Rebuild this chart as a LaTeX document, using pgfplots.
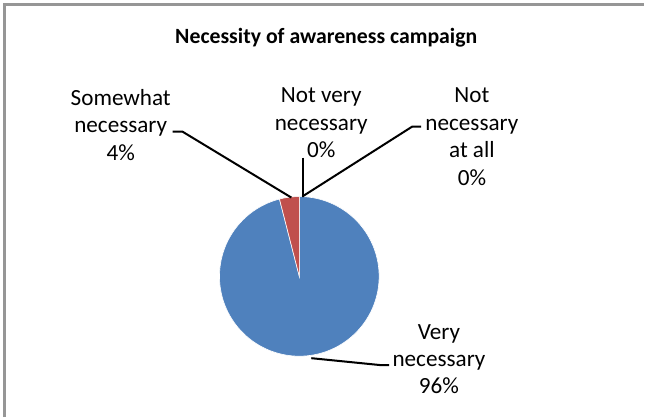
\documentclass[border=0pt]{standalone}
\usepackage{fontspec}
\setmainfont{Carlito}
\usepackage{pgfplots}
\pgfplotsset{compat=1.18}
\definecolor{pieblue}{RGB}{79,129,189}
\definecolor{piered}{RGB}{192,80,77}
\definecolor{framegray}{RGB}{150,150,150}
% slice values (percent)
\def\vA{96}% Very necessary
\def\vB{4}%  Somewhat necessary
\def\vC{0}%  Not very necessary
\def\vD{0}%  Not necessary at all
\begin{document}
\begin{tikzpicture}
\pgfmathsetmacro\aA{90-3.6*\vA}
\pgfmathsetmacro\aB{\aA-3.6*\vB}
\begin{axis}[width=322.5pt,height=209pt,scale only axis,hide axis,
  xmin=0,xmax=645,ymin=0,ymax=418,clip=false]
\path (0,0) rectangle (645,418);
\draw[framegray,line width=1.5pt] (5,0) -- (5,413) -- (645,413);
% pie slices
\addplot[fill=pieblue,draw=white,line width=0.3pt,domain=\aA:90,samples=240]
  ({300+80*cos(x)},{141+80*sin(x)}) -- (300,141) -- cycle;
\addplot[fill=piered,draw=white,line width=0.3pt,domain=\aB:\aA,samples=20]
  ({300+80*cos(x)},{141+80*sin(x)}) -- (300,141) -- cycle;
% leader lines
\addplot[black,line width=1pt,mark=none] coordinates {(173,286) (183,286) (292,220)};
\addplot[black,line width=1pt,mark=none] coordinates {(304,260) (304,221)};
\addplot[black,line width=1pt,mark=none] coordinates {(303,221) (413,291) (422,291)};
\addplot[black,line width=1pt,mark=none] coordinates {(312,59) (382,52) (390,52)};
% title
\node[font=\fontsize{10.9}{13}\selectfont\bfseries,anchor=base] at (327,374) {Necessity of awareness campaign};
% labels
\node[align=center,font=\fontsize{11.6}{13.75}\selectfont] at (121,293) {Somewhat\\necessary\\4\%};
\node[align=center,font=\fontsize{11.6}{13.75}\selectfont] at (322,295) {Not very\\necessary\\0\%};
\node[align=center,font=\fontsize{11.6}{13.75}\selectfont] at (473,281) {Not\\necessary\\at all\\0\%};
\node[align=center,font=\fontsize{11.6}{13.75}\selectfont] at (440,58) {Very\\necessary\\96\%};
\end{axis}
\end{tikzpicture}
\end{document}
